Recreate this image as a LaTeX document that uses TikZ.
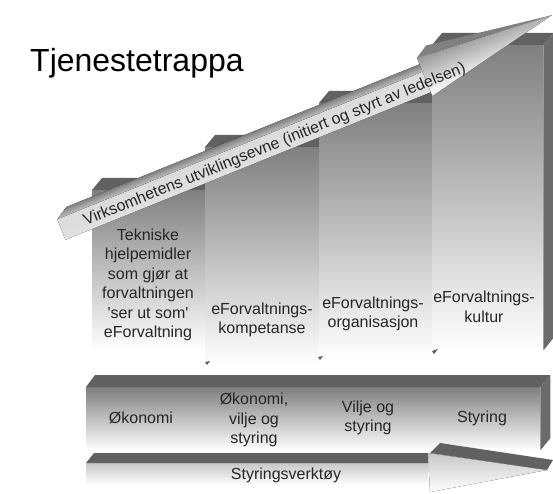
\documentclass[tikz,border=0pt]{standalone}
\usepackage{fontspec}
\setmainfont{Liberation Sans}

\begin{document}
\begin{tikzpicture}[
        x=1pt, y=-1pt,
        txt/.style={font=\fontsize{16}{19.5}\selectfont, align=center, text=black!85, inner sep=0pt},
        stepface/.style={top color=black!50, middle color=black!34, bottom color=white, inner sep=0pt, anchor=north west},
        barface/.style={top color=black!50, middle color=black!20, bottom color=white, inner sep=0pt, anchor=north west},
        topface/.style={fill=black!62},
        sideface/.style={fill=black!58},
        tickmark/.style={fill=black!65}
        ]
        \useasboundingbox[fill=white] (0,0) rectangle (553,494);

        \node[font=\fontsize{32}{38}\selectfont, anchor=base west, inner sep=0pt] (title) at (30,72) {Tjenestetrappa};

        % steps, lowest first, each with its top face
        \foreach \n/\xl/\yt/\w/\h in {1/92/190/113/160, 2/205/147/114/218, 3/319/103/113/255, 4/432/45/111/305} {
            \node[stepface, minimum width=\w, minimum height=\h] (step\n) at (\xl,\yt) {};
            \fill[topface] (step\n.north west) -- (step\n.north east) -- ++(10,-12)
                -- ([shift={(10,-12)}]step\n.north west) -- cycle;
        }
        \fill[sideface] (step4.north east) -- ++(10,-12) -- ++(0,305) -- (step4.south east) -- cycle;

        \fill[tickmark] (205,362) -- ++(5,-1) -- ++(-3,4) -- cycle;
        \fill[tickmark] (318,357) -- ++(5,-1) -- ++(-3,4) -- cycle;
        \fill[tickmark] (432,351) -- ++(6,-2) -- ++(-4,5) -- cycle;

        \node[txt] (tools)        at (148,285) {Tekniske\\hjelpemidler\\som gjør at\\forvaltningen\\\textquotesingle ser ut som\textquotesingle\\eForvaltning};
        \node[txt] (competence)   at (262,320) {eForvaltnings-\\kompetanse};
        \node[txt] (organisation) at (373,314) {eForvaltnings-\\organisasjon};
        \node[txt] (culture)      at (484,307) {eForvaltnings-\\kultur};

        % rising arrow across the steps
        \begin{scope}[transform canvas={shift={(64pt,-236pt)}, rotate=22}, y=1pt]
            \fill[top color=black!50, bottom color=black!25] (0,18) -- (396,18) -- (409,26) -- (13,26) -- cycle;
            \fill[top color=black!14, middle color=white, bottom color=black!12] (0,-4) -- (396,-4) -- (396,18) -- (0,18) -- cycle;
            \fill[top color=black!40, middle color=black!8, bottom color=white] (394,-8) -- (535,22) -- (394,33) -- cycle;
            \fill[black!50] (394,33) -- (407,41) -- (535,22) -- cycle;
            \node[txt, anchor=base west] (growth) at (24,1.5) {Virksomhetens utviklingsevne (initiert og styrt av ledelsen)};
        \end{scope}

        % foundation bar
        \node[barface, minimum width=454, minimum height=63] (bar) at (86,387) {};
        \fill[topface] (bar.north west) -- (bar.north east) -- ++(10,-12) -- ([shift={(9,-12)}]bar.north west) -- cycle;
        \fill[sideface] (bar.north east) -- ++(10,-12) -- ++(0,63) -- (bar.south east) -- cycle;

        \node[txt] (economy)  at (141,418) {Økonomi};
        \node[txt] (mixed)    at (254,420) {Økonomi,\\vilje og\\styring};
        \node[txt] (will)     at (368,418) {Vilje og\\styring};
        \node[txt] (steering) at (482,418) {Styring};

        % flat arrow along the bottom
        \fill[top color=black!22, bottom color=white] (86,463) rectangle (428,485);
        \fill[top color=black!22, bottom color=white] (428,453) -- (547,470) -- (430,492) -- cycle;
        \fill[topface] (86,463) -- (94,453) -- (428,453) -- (428,463) -- cycle;
        \fill[topface] (430,453) -- (440,443) -- (553,460) -- (547,470) -- cycle;
        \node[txt] (toolbox) at (286,475) {Styringsverktøy};
\end{tikzpicture}
\end{document}
